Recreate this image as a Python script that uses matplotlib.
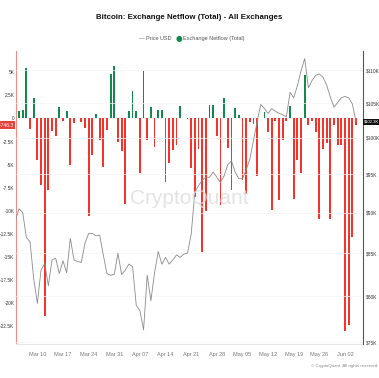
import matplotlib
matplotlib.use("Agg")
import matplotlib.pyplot as plt
import matplotlib.dates as mdates
from matplotlib.ticker import FixedLocator, FixedFormatter, NullLocator
import pandas as pd
import numpy as np

plt.rcParams["font.family"] = ["Liberation Sans Narrow", "Liberation Sans", "DejaVu Sans"]

# daily exchange netflow (thousands of BTC), Mar 05 - Jun 05
netflow_k = [0.8, 0.9, 5.5, -1.1, 2.2, -4.5, -7.2, -21.4, -7.7, -1.4,
             -1.9, 1.2, -0.3, 0.8, -5.0, -0.5, 0.1, -0.35, -1.0, -10.5,
             -4.0, 0.45, -2.3, -5.2, -1.25, 4.8, 5.7, -2.5, -3.5, -9.2,
             0.8, 3.0, 0.8, -5.9, 5.1, -2.3, 1.2, -3.1, 0.9, 0.9,
             -6.9, -4.8, -3.4, -2.9, 1.3, 0.05, -0.1, -5.4, -8.5, -3.3,
             -14.4, -10.0, 1.5, 1.5, -1.9, -9.4, 2.25, -3.2, -7.7, 1.1,
             0.4, -6.7, -8.2, -0.35, -0.6, -6.2, 0.1, 0.7, -1.5, -9.9,
             -0.3, -8.8, -2.3, -0.3, 1.35, -8.7, -4.5, -5.9, 4.7, -0.7,
             -0.3, -1.5, -10.9, -3.3, -2.6, -10.9, -0.7, -2.9, -2.9, -23.0,
             -22.3, -12.8, -0.7463]

# daily BTC price (thousands USD), Mar 04 - Jun 05
price_k = [89.0, 90.5, 90.0, 86.9, 86.4, 82.0, 79.2, 83.0, 83.8, 81.2,
           84.2, 84.4, 82.6, 84.1, 82.7, 86.8, 84.2, 84.0, 83.9, 86.2,
           87.4, 87.4, 87.1, 87.2, 84.8, 82.6, 82.4, 82.5, 85.0, 82.5,
           83.0, 83.7, 83.4, 79.0, 78.4, 76.3, 82.4, 79.5, 82.7, 85.2,
           83.7, 84.5, 83.7, 84.2, 84.8, 84.5, 84.9, 85.0, 87.3, 92.6,
           93.5, 94.2, 94.6, 94.6, 95.3, 94.6, 93.9, 94.8, 96.3, 96.8,
           95.3, 94.4, 94.4, 95.6, 97.0, 99.6, 102.3, 104.8, 104.2, 103.5,
           104.2, 103.8, 103.5, 103.3, 103.0, 106.6, 105.8, 107.6, 109.9, 111.8,
           107.3, 108.4, 109.2, 109.4, 108.9, 107.7, 105.9, 104.4, 105.1, 105.8,
           106.0, 105.8, 104.9, 102.3]

flow_dates = pd.date_range("2025-03-05", periods=len(netflow_k), freq="D")
price_dates = pd.date_range("2025-03-04", periods=len(price_k), freq="D")

left_ticks = [5000, 2500, 0, -2500, -5000, -7500, -10000, -12500, -15000,
              -17500, -20000, -22500]
left_labels = ["5K", "2.5K", "0", "-2.5K", "-5K", "-7.5K", "-10K", "-12.5K",
               "-15K", "-17.5K", "-20K", "-22.5K"]
right_ticks = [75000, 80000, 85000, 90000, 95000, 100000, 105000, 110000]
right_labels = ["$75K", "$80K", "$85K", "$90K", "$95K", "$100K", "$105K", "$110K"]
x_ticks = pd.date_range("2025-03-10", "2025-06-02", freq="7D")

green = "#13894f"
red = "#f5332a"

flow = np.array(netflow_k) * 1000
price = np.array(price_k) * 1000

fig = plt.figure(figsize=(3.79, 3.78), dpi=100)
ax = fig.add_axes([0.0414, 0.090, 0.9164, 0.775])

colors = [green if v >= 0 else red for v in flow]
ax.bar(flow_dates, flow, width=0.5, color=colors, zorder=2)

ax.set_ylim(-24400, 7300)
ax.set_xlim(pd.Timestamp("2025-03-04 02:00"), pd.Timestamp("2025-06-06 22:00"))
ax.set_yticks(left_ticks)
ax.set_yticklabels(left_labels)
ax.tick_params(axis="y", length=0, labelsize=3.4, labelcolor="#333333", pad=1)
ax.set_xticks(x_ticks)
ax.xaxis.set_major_formatter(mdates.DateFormatter("%b %d"))
ax.tick_params(axis="x", length=0, labelsize=4.0, labelcolor="#777777", pad=6)

for s in ["top", "right"]:
    ax.spines[s].set_visible(False)
ax.spines["left"].set_color("#f08a84")
ax.spines["left"].set_linewidth(0.8)
ax.spines["bottom"].set_color("#e6e6e6")
ax.spines["bottom"].set_linewidth(0.8)

ax2 = ax.twinx()
ax2.plot(price_dates, price, color="#8a8a8a", linewidth=0.6, zorder=3)
ax2.set_yscale("log")
ax2.set_ylim(74800, 113000)
ax2.yaxis.set_major_locator(FixedLocator(right_ticks))
ax2.yaxis.set_major_formatter(FixedFormatter(right_labels))
ax2.yaxis.set_minor_locator(NullLocator())
ax2.tick_params(axis="y", length=0, labelsize=3.5, labelcolor="#333333", pad=2)
for s in ["top", "left", "bottom"]:
    ax2.spines[s].set_visible(False)
ax2.spines["right"].set_color("#555555")
ax2.spines["right"].set_linewidth(0.8)
for y in right_ticks:
    ax2.axhline(y, color="#f4f4f4", linewidth=0.5, zorder=0)

# last value markers
ax.text(-0.006, flow[-1], "-746.3", transform=ax.get_yaxis_transform(),
        ha="right", va="center", fontsize=3.6, color="white",
        bbox=dict(boxstyle="square,pad=0.3", fc="#e8403a", ec="none"))
ax2.text(1.004, price[-1], "$102.3K", transform=ax2.get_yaxis_transform(),
         ha="left", va="center", fontsize=3.0, color="white",
         bbox=dict(boxstyle="square,pad=0.25", fc="#111111", ec="none"))

# watermark
fig.text(0.50, 0.475, "CryptoQuant", ha="center", va="center", fontsize=15,
         color="#dcdcdc", alpha=0.8, family=["Liberation Sans", "DejaVu Sans"])

fig.text(0.5, 0.955, "Bitcoin: Exchange Netflow (Total) - All Exchanges",
         ha="center", va="center", fontsize=5.7, fontweight="bold",
         color="#111111")
fig.text(0.452, 0.898, "— Price USD", ha="right", va="center", fontsize=4.0,
         color="#555555")
fig.text(0.464, 0.898, "●", ha="left", va="center", fontsize=5.5, color=green,
         family=["DejaVu Sans"])
fig.text(0.482, 0.898, "Exchange Netflow (Total)", ha="left", va="center",
         fontsize=4.0, color="#555555")
fig.text(0.995, 0.032, "© CryptoQuant. All rights reserved", ha="right",
         va="center", fontsize=3.2, color="#888888")

fig.savefig("out.png", dpi=100)
